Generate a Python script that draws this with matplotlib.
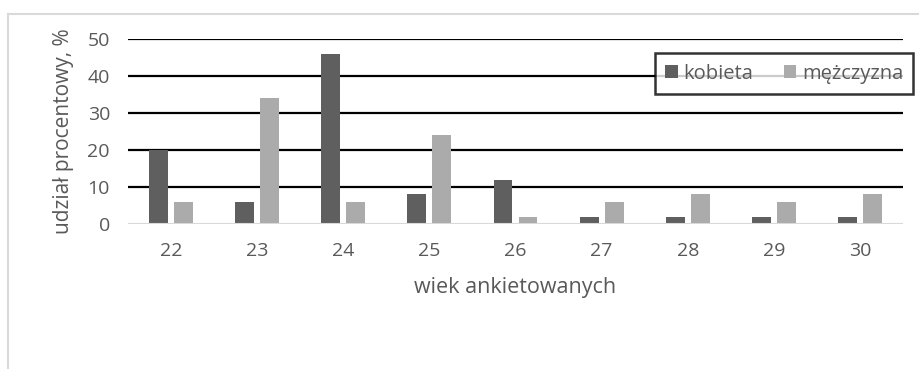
import numpy as np
import matplotlib
matplotlib.use("Agg")
import matplotlib.pyplot as plt
from matplotlib.lines import Line2D

# wiek ankietowanych i udzial procentowy
wiek = ['22', '23', '24', '25', '26', '27', '28', '29', '30']
kobieta = [20, 6, 46, 8, 12, 2, 2, 2, 2]
mezczyzna = [6, 34, 6, 24, 2, 6, 8, 6, 8]

plt.rcParams['font.family'] = ['Open Sans', 'DejaVu Sans']
txt = '#595959'

fig = plt.figure(figsize=(9.19, 3.69), dpi=100)
ax = fig.add_axes([0.1393, 0.3930, 0.8433, 0.5013])

x = np.arange(len(wiek))
w = 0.22
ax.bar(x - 0.145, kobieta, w, color='#5f5f5f', label='kobieta', zorder=3)
ax.bar(x + 0.145, mezczyzna, w, color='#ababab', label='mężczyzna', zorder=3)

ax.set_xlim(-0.5, len(wiek) - 0.5)
ax.set_ylim(0, 50)
ax.set_yticks([0, 10, 20, 30, 40, 50])
ax.set_xticks(x)
ax.set_xticklabels(wiek)

# siatka
for v in [10, 20, 30, 40, 50]:
    ax.axhline(v, color='black', lw=1.6, zorder=1)
ax.axhline(0, color='#d9d9d9', lw=1.5, zorder=4)

for s in ax.spines.values():
    s.set_visible(False)
ax.tick_params(length=0, labelsize=14, labelcolor=txt)
ax.tick_params(axis='y', pad=13)
ax.tick_params(axis='x', pad=13)

ax.set_ylabel('udział procentowy, %', fontsize=15, color=txt, labelpad=10)
ax.set_xlabel('wiek ankietowanych', fontsize=15.5, color=txt, labelpad=12)

leg = ax.legend(loc='upper right', bbox_to_anchor=(1.013, 0.922), ncol=2, fontsize=14.5,
                frameon=True, fancybox=False, handlelength=0.6, handleheight=0.6,
                handletextpad=0.3, columnspacing=1.5, borderpad=0.5, borderaxespad=0)
leg.get_frame().set_edgecolor('black')
leg.get_frame().set_linewidth(1.8)
for t in leg.get_texts():
    t.set_color(txt)

# ramka wykresu
fig.add_artist(Line2D([8/919, 8/919], [0, 1 - 14/369], color='#d9d9d9', lw=1.5))
fig.add_artist(Line2D([8/919, 1], [1 - 14/369, 1 - 14/369], color='#d9d9d9', lw=1.5))

fig.savefig('out.png', dpi=100)
